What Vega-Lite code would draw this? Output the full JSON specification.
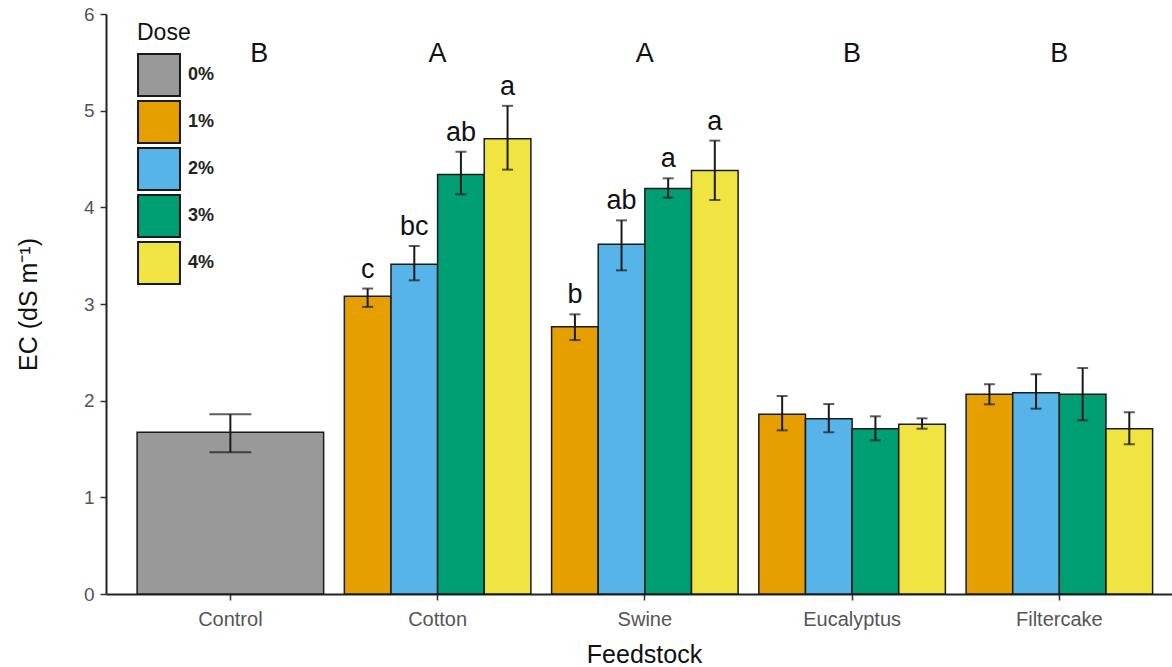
{
  "$schema": "https://vega.github.io/schema/vega-lite/v6.json",
  "width": 1066,
  "height": 580,
  "autosize": {"type": "none"},
  "padding": {"left": 106, "top": 14, "right": 0, "bottom": 73},
  "background": "white",
  "config": {
    "view": {"stroke": null},
    "font": "Liberation Sans",
    "axis": {
      "grid": false,
      "domainColor": "#222222",
      "domainWidth": 2,
      "tickColor": "#333333",
      "tickWidth": 1.5,
      "tickSize": 6,
      "labelColor": "#555555",
      "labelFont": "Liberation Sans",
      "titleFont": "Liberation Sans",
      "titleFontWeight": "normal",
      "titleColor": "#111111"
    },
    "legend": {"padding": 0}
  },
  "datasets": {
    "ec": [
      {"Feedstock": "Control", "Dose": "0%", "mean": 1.673, "lower": 1.466, "upper": 1.859, "letter": ""},
      {"Feedstock": "Cotton", "Dose": "1%", "mean": 3.08, "lower": 2.97, "upper": 3.16, "letter": "c"},
      {"Feedstock": "Cotton", "Dose": "2%", "mean": 3.41, "lower": 3.245, "upper": 3.6, "letter": "bc"},
      {"Feedstock": "Cotton", "Dose": "3%", "mean": 4.34, "lower": 4.135, "upper": 4.575, "letter": "ab"},
      {"Feedstock": "Cotton", "Dose": "4%", "mean": 4.71, "lower": 4.39, "upper": 5.05, "letter": "a"},
      {"Feedstock": "Swine", "Dose": "1%", "mean": 2.765, "lower": 2.627, "upper": 2.893, "letter": "b"},
      {"Feedstock": "Swine", "Dose": "2%", "mean": 3.617, "lower": 3.348, "upper": 3.865, "letter": "ab"},
      {"Feedstock": "Swine", "Dose": "3%", "mean": 4.196, "lower": 4.1, "upper": 4.3, "letter": "a"},
      {"Feedstock": "Swine", "Dose": "4%", "mean": 4.38, "lower": 4.076, "upper": 4.69, "letter": "a"},
      {"Feedstock": "Eucalyptus", "Dose": "1%", "mean": 1.859, "lower": 1.693, "upper": 2.048, "letter": ""},
      {"Feedstock": "Eucalyptus", "Dose": "2%", "mean": 1.814, "lower": 1.673, "upper": 1.965, "letter": ""},
      {"Feedstock": "Eucalyptus", "Dose": "3%", "mean": 1.71, "lower": 1.59, "upper": 1.838, "letter": ""},
      {"Feedstock": "Eucalyptus", "Dose": "4%", "mean": 1.755, "lower": 1.71, "upper": 1.817, "letter": ""},
      {"Feedstock": "Filtercake", "Dose": "1%", "mean": 2.066, "lower": 1.962, "upper": 2.17, "letter": ""},
      {"Feedstock": "Filtercake", "Dose": "2%", "mean": 2.083, "lower": 1.917, "upper": 2.273, "letter": ""},
      {"Feedstock": "Filtercake", "Dose": "3%", "mean": 2.066, "lower": 1.797, "upper": 2.338, "letter": ""},
      {"Feedstock": "Filtercake", "Dose": "4%", "mean": 1.71, "lower": 1.549, "upper": 1.88, "letter": ""}
    ],
    "groups": [
      {"Feedstock": "Control", "group": "B"},
      {"Feedstock": "Cotton", "group": "A"},
      {"Feedstock": "Swine", "group": "A"},
      {"Feedstock": "Eucalyptus", "group": "B"},
      {"Feedstock": "Filtercake", "group": "B"}
    ]
  },
  "data": {"name": "ec"},
  "encoding": {
    "x": {
      "field": "Feedstock",
      "type": "nominal",
      "sort": ["Control", "Cotton", "Swine", "Eucalyptus", "Filtercake"],
      "scale": {"type": "band", "paddingInner": 0.1, "paddingOuter": 0.1218, "align": 0.616},
      "axis": {
        "title": "Feedstock",
        "labelAngle": 0,
        "labelFontSize": 20,
        "labelPadding": 9,
        "titleFontSize": 25,
        "titlePadding": 13,
        "titleX": 538
      }
    }
  },
  "layer": [
    {
      "transform": [{"filter": "datum.Feedstock === 'Control'"}],
      "mark": {"type": "bar", "stroke": "#1a1a1a", "strokeWidth": 1.5},
      "encoding": {
        "y": {
          "field": "mean",
          "type": "quantitative",
          "scale": {"domain": [0, 6], "nice": false},
          "axis": {
            "title": "EC (dS m⁻¹)",
            "values": [0, 1, 2, 3, 4, 5, 6],
            "format": "d",
            "labelFontSize": 19,
            "labelPadding": 6,
            "titleFontSize": 25,
            "titlePadding": 42
          }
        },
        "color": {
          "field": "Dose",
          "type": "nominal",
          "scale": {
            "domain": ["0%", "1%", "2%", "3%", "4%"],
            "range": ["#999999", "#E69F00", "#56B4E9", "#009E73", "#F0E442"]
          },
          "legend": {
            "title": "Dose",
            "orient": "none",
            "legendX": 31,
            "legendY": 8,
            "titleFontSize": 23,
            "titleFontWeight": "normal",
            "titleColor": "#111111",
            "titlePadding": 8,
            "labelFontSize": 18,
            "labelFontWeight": "bold",
            "labelColor": "#222222",
            "labelOffset": 7,
            "symbolType": "square",
            "symbolSize": 1760,
            "symbolStrokeColor": "#1a1a1a",
            "symbolStrokeWidth": 2,
            "symbolOpacity": 1,
            "symbolFillOpacity": 1,
            "rowPadding": -5
          }
        }
      }
    },
    {
      "transform": [{"filter": "datum.Feedstock !== 'Control'"}],
      "mark": {"type": "bar", "stroke": "#1a1a1a", "strokeWidth": 1.5},
      "encoding": {
        "xOffset": {"field": "Dose", "type": "nominal", "scale": {"domain": ["1%", "2%", "3%", "4%"], "paddingInner": 0, "paddingOuter": 0}},
        "y": {"field": "mean", "type": "quantitative"},
        "color": {"field": "Dose", "type": "nominal"}
      }
    },
    {
      "transform": [{"filter": "datum.Feedstock === 'Control'"}],
      "mark": {"type": "rule", "color": "#1a1a1a", "strokeWidth": 2},
      "encoding": {
        "y": {"field": "lower", "type": "quantitative"},
        "y2": {"field": "upper"}
      }
    },
    {
      "transform": [{"filter": "datum.Feedstock === 'Control'"}],
      "mark": {"type": "tick", "color": "#1a1a1a", "thickness": 2, "size": 42, "orient": "horizontal"},
      "encoding": {"y": {"field": "lower", "type": "quantitative"}}
    },
    {
      "transform": [{"filter": "datum.Feedstock === 'Control'"}],
      "mark": {"type": "tick", "color": "#1a1a1a", "thickness": 2, "size": 42, "orient": "horizontal"},
      "encoding": {"y": {"field": "upper", "type": "quantitative"}}
    },
    {
      "transform": [{"filter": "datum.Feedstock !== 'Control'"}],
      "mark": {"type": "rule", "color": "#1a1a1a", "strokeWidth": 2},
      "encoding": {
        "xOffset": {"field": "Dose", "type": "nominal"},
        "y": {"field": "lower", "type": "quantitative"},
        "y2": {"field": "upper"}
      }
    },
    {
      "transform": [{"filter": "datum.Feedstock !== 'Control'"}],
      "mark": {"type": "tick", "color": "#1a1a1a", "thickness": 2, "size": 11, "orient": "horizontal"},
      "encoding": {
        "xOffset": {"field": "Dose", "type": "nominal"},
        "y": {"field": "lower", "type": "quantitative"}
      }
    },
    {
      "transform": [{"filter": "datum.Feedstock !== 'Control'"}],
      "mark": {"type": "tick", "color": "#1a1a1a", "thickness": 2, "size": 11, "orient": "horizontal"},
      "encoding": {
        "xOffset": {"field": "Dose", "type": "nominal"},
        "y": {"field": "upper", "type": "quantitative"}
      }
    },
    {
      "transform": [{"filter": "datum.Feedstock !== 'Control'"}],
      "mark": {"type": "text", "fontSize": 27, "color": "#111111", "baseline": "alphabetic", "dy": -11},
      "encoding": {
        "xOffset": {"field": "Dose", "type": "nominal"},
        "y": {"field": "upper", "type": "quantitative"},
        "text": {"field": "letter"}
      }
    },
    {
      "data": {"name": "groups"},
      "transform": [{"filter": "datum.Feedstock === 'Control'"}],
      "mark": {"type": "text", "fontSize": 27, "color": "#111111", "baseline": "alphabetic", "dx": 29},
      "encoding": {
        "y": {"datum": 5.5, "type": "quantitative"},
        "text": {"field": "group"}
      }
    },
    {
      "data": {"name": "groups"},
      "transform": [{"filter": "datum.Feedstock !== 'Control'"}],
      "mark": {"type": "text", "fontSize": 27, "color": "#111111", "baseline": "alphabetic"},
      "encoding": {
        "y": {"datum": 5.5, "type": "quantitative"},
        "text": {"field": "group"}
      }
    }
  ]
}
